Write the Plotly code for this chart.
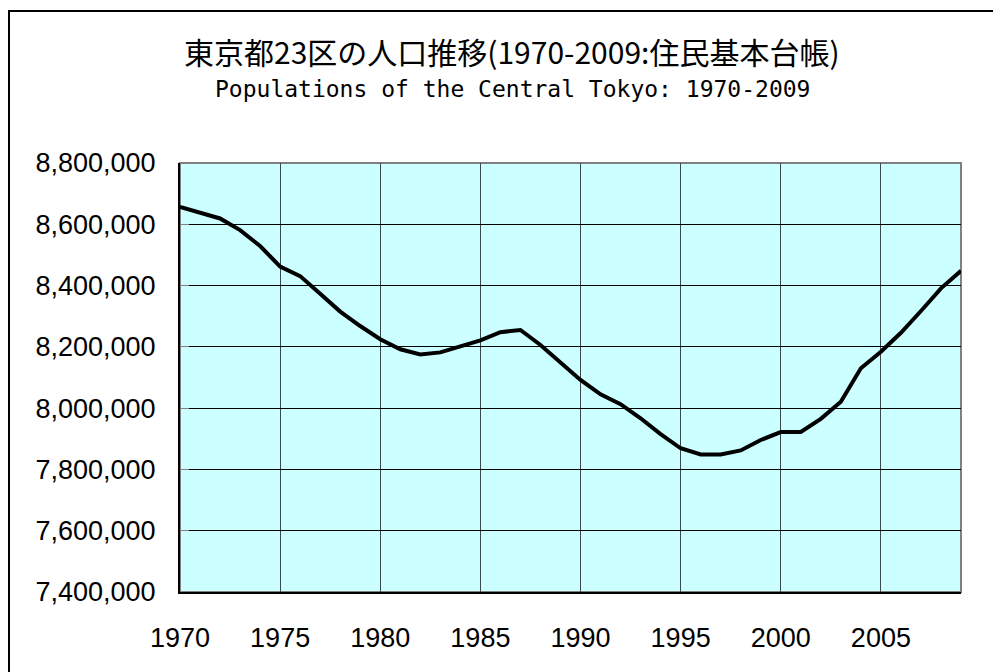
import plotly.graph_objects as go

years = list(range(1970, 2010))
population = [
    8657000, 8638000, 8619000, 8581000, 8529000, 8462000, 8431000, 8373000, 8315000, 8268000,
    8225000, 8192000, 8175000, 8182000, 8203000, 8221000, 8248000, 8255000, 8206000, 8148000,
    8092000, 8045000, 8013000, 7967000, 7915000, 7869000, 7849000, 7849000, 7862000, 7896000,
    7922000, 7922000, 7965000, 8021000, 8130000, 8184000, 8246000, 8317000, 8391000, 8448000,
]
title_jp = "東京都23区の人口推移(1970-2009:住民基本台帳)"
title_en = "Populations of the Central Tokyo: 1970-2009"
y_ticks = [7400000, 7600000, 7800000, 8000000, 8200000, 8400000, 8600000, 8800000]
x_ticks = [1970, 1975, 1980, 1985, 1990, 1995, 2000, 2005]

OFF = 8  # page body margin
W, H = 1001 - OFF, 672 - OFF
L, T = 180 - OFF, 163 - OFF
R = W - (961 - OFF)
B = H - (592 - OFF)
pw, ph = W - L - R, H - T - B

fig = go.Figure()
fig.add_trace(go.Scatter(x=years, y=population, mode="lines",
                         line=dict(color="black", width=4), hoverinfo="x+y"))

def px_x(p):
    return (p - OFF - L) / pw

def px_y(p):
    return 1 + (T - (p - OFF)) / ph

fig.update_layout(
    width=W, height=H,
    margin=dict(l=L, r=R, t=T, b=B),
    paper_bgcolor="white",
    plot_bgcolor="#CCFFFF",
    showlegend=False,
    font=dict(family="Liberation Sans, Arial, sans-serif", color="black"),
    xaxis=dict(
        range=[1970, 2009], tickvals=x_ticks, ticktext=[str(v) for v in x_ticks],
        showgrid=True, gridcolor="#3a4a4a", gridwidth=1,
        showline=True, linecolor="black", linewidth=2,
        ticks="", ticklabelstandoff=21,
        tickfont=dict(size=27), zeroline=False,
    ),
    yaxis=dict(
        range=[7400000, 8800000], tickvals=y_ticks, tickformat=",d",
        showgrid=True, gridcolor="black", gridwidth=1,
        showline=True, linecolor="black", linewidth=2,
        ticks="inside", ticklen=9, tickcolor="#808080",
        ticklabelstandoff=17,
        tickfont=dict(size=27), zeroline=False,
    ),
    shapes=[
        dict(type="rect", xref="paper", yref="paper", x0=0, x1=1, y0=0, y1=1,
             line=dict(color="#808080", width=2), layer="below"),
        dict(type="rect", xref="paper", yref="paper",
             x0=px_x(9), x1=px_x(1010), y0=px_y(690), y1=px_y(11),
             line=dict(color="black", width=2)),
    ],
    annotations=[
        dict(text=title_jp, xref="paper", yref="paper", x=px_x(512), y=px_y(51),
             xanchor="center", yanchor="middle", showarrow=False,
             font=dict(family="Noto Sans CJK JP", size=30, color="black")),
        dict(text=title_en, xref="paper", yref="paper", x=px_x(512), y=px_y(89),
             xanchor="center", yanchor="middle", showarrow=False,
             font=dict(family="DejaVu Sans Mono", size=23, color="black")),
    ],
)

fig.write_html("out.html")
